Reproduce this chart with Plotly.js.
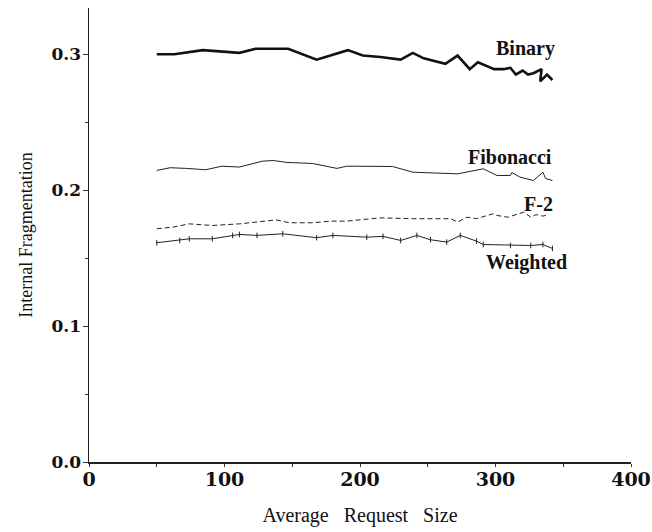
<!DOCTYPE html>
<html><head><meta charset="utf-8">
<script src="https://cdn.plot.ly/plotly-3.0.1.min.js"></script>
<style>body{margin:0;background:#fff}#c{width:652px;height:532px}</style>
</head><body><div id="c"></div>
<script>
var binX = [50,63,84,111,123,147,168,191,202,215,230,239,247,263,272,281,287,299,306,311,315,320,324,328,334,333,338,342];
var binY = [0.300,0.300,0.303,0.301,0.304,0.304,0.296,0.303,0.299,0.298,0.296,0.301,0.297,0.293,0.299,0.289,0.294,0.289,0.289,0.290,0.285,0.288,0.285,0.286,0.289,0.280,0.285,0.281];
var fibX = [50,60,72,86,98,111,128,136,146,165,183,190,198,224,239,272,291,301,311,312,318,328,335,337,342];
var fibY = [0.2145,0.2165,0.216,0.215,0.2176,0.217,0.2213,0.2218,0.2204,0.2196,0.216,0.2176,0.2176,0.2174,0.2132,0.212,0.2157,0.2108,0.2108,0.213,0.2096,0.2071,0.2132,0.2085,0.2071];
var f2X = [50,62,74,91,111,131,138,148,165,178,190,215,239,267,272,279,286,298,301,309,316,321,326,330,335,339];
var f2Y = [0.1716,0.1728,0.1752,0.174,0.1752,0.1777,0.1781,0.176,0.176,0.1772,0.1772,0.1796,0.179,0.179,0.1765,0.1801,0.179,0.1826,0.1814,0.1801,0.1826,0.1838,0.1801,0.182,0.1809,0.182];
var wX = [50,67,74,91,106,111,124,143,168,180,205,217,230,242,252,264,274,286,291,311,326,335,342];
var wY = [0.1613,0.163,0.1642,0.1642,0.1667,0.1674,0.1667,0.1679,0.165,0.1667,0.1654,0.166,0.163,0.1667,0.1635,0.1618,0.1667,0.1625,0.16,0.1593,0.1593,0.16,0.1571];
var seriesNames = ["Binary","Fibonacci","F-2","Weighted"];
var labelX = [322,311,332,323];
var labelY = [0.304,0.2246,0.1895,0.147];

var serif = "Liberation Serif, DejaVu Serif, serif";
var traces = [
  {x:binX,y:binY,mode:"lines",line:{color:"#111",width:2.6},name:seriesNames[0]},
  {x:fibX,y:fibY,mode:"lines",line:{color:"#222",width:1},name:seriesNames[1]},
  {x:f2X,y:f2Y,mode:"lines",line:{color:"#222",width:1,dash:"5px,3px"},name:seriesNames[2]},
  {x:wX,y:wY,mode:"lines+markers",line:{color:"#222",width:1},
   marker:{symbol:"line-ns-open",size:4,line:{color:"#222",width:1}},name:seriesNames[3]}
];
var ann = seriesNames.map(function(n,i){
  return {x:labelX[i],y:labelY[i],text:n,showarrow:false,xref:"x",yref:"y",
    font:{family:serif,size:20,color:"#111",weight:"bold"}};
});
var layout = {
  width:652,height:532,
  margin:{l:89,r:21,t:8,b:70},
  paper_bgcolor:"#fff",plot_bgcolor:"#fff",
  showlegend:false,
  xaxis:{range:[0,400],tickvals:[0,100,200,300,400],ticktext:["0","100","200","300","400"],
    ticks:"outside",ticklen:3,tickwidth:1,tickcolor:"#333",ticklabelstandoff:-3,
    minor:{dtick:50,ticks:"outside",ticklen:3,tickcolor:"#333"},
    showgrid:false,zeroline:false,showline:true,linecolor:"#222",linewidth:1.5,
    tickfont:{family:"DejaVu Serif, serif",size:19,color:"#111",weight:"bold"},
    title:{text:"Average\u00a0\u00a0\u00a0Request\u00a0\u00a0\u00a0Size",standoff:18,font:{family:serif,size:20,color:"#111"}}},
  yaxis:{range:[0,0.334],tickvals:[0,0.1,0.2,0.3],ticktext:["0.0","0.1","0.2","0.3"],
    ticks:"outside",ticklen:5,tickwidth:1,tickcolor:"#333",ticklabelstandoff:-2,
    minor:{dtick:0.05,ticks:"outside",ticklen:3,tickcolor:"#333"},
    showgrid:false,zeroline:false,showline:true,linecolor:"#222",linewidth:1.5,
    tickfont:{family:"DejaVu Serif, serif",size:17,color:"#111",weight:"bold"},
    title:{text:"Internal Fragmentation",standoff:14,font:{family:serif,size:18,color:"#111"}}},
  annotations:ann
};
Plotly.newPlot("c",traces,layout,{staticPlot:true,displayModeBar:false});
</script></body></html>
